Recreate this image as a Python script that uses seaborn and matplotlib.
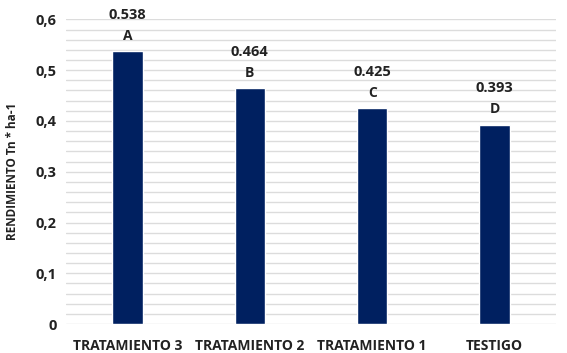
import numpy as np
import pandas as pd
import matplotlib.pyplot as plt
import seaborn as sns
from matplotlib.ticker import MultipleLocator, FuncFormatter

# chart values
tratamientos = ['TRATAMIENTO 3', 'TRATAMIENTO 2', 'TRATAMIENTO 1', 'TESTIGO']
rendimiento = [0.538, 0.464, 0.425, 0.393]
letras = ['A', 'B', 'C', 'D']

df = pd.DataFrame({'tratamiento': tratamientos, 'rendimiento': rendimiento})

sns.set_style('white')
plt.rcParams['font.family'] = ['Open Sans', 'DejaVu Sans']

fig, ax = plt.subplots(figsize=(5.67, 3.53), dpi=100)
fig.subplots_adjust(left=0.117, right=0.98, top=0.945, bottom=0.082)

sns.barplot(data=df, x='tratamiento', y='rendimiento', color='#002060',
            width=0.25, saturation=1, ax=ax, zorder=3)

# labels above bars: value then letter
for i, p in enumerate(ax.patches):
    x = p.get_x() + p.get_width() / 2
    h = p.get_height()
    ax.annotate(letras[i], (x, h), xytext=(0, 6), textcoords='offset points',
                ha='center', va='bottom', fontsize=10, fontweight='bold', color='#222222')
    ax.annotate(f'{rendimiento[i]:.3f}', (x, h), xytext=(0, 21), textcoords='offset points',
                ha='center', va='bottom', fontsize=10.5, fontweight='bold', color='#222222')

ax.set_ylim(0, 0.6)
ax.set_xlim(-0.5, 3.5)
ax.yaxis.set_major_locator(MultipleLocator(0.1))
ax.yaxis.set_minor_locator(MultipleLocator(0.02))
ax.yaxis.set_major_formatter(FuncFormatter(lambda v, pos: '0' if abs(v) < 1e-9 else f'{v:.1f}'.replace('.', ',')))
ax.grid(axis='y', which='both', color='#dcdcdc', linewidth=1, zorder=0)
ax.set_axisbelow(True)

for s in ax.spines.values():
    s.set_visible(False)

ax.tick_params(axis='both', which='both', length=0)
ax.tick_params(axis='y', labelsize=10.5, pad=7)
ax.tick_params(axis='x', labelsize=10, pad=11)
for lab in ax.get_xticklabels() + ax.get_yticklabels():
    lab.set_fontweight('bold')
    lab.set_color('#222222')

ax.set_xlabel('')
ax.set_ylabel('RENDIMIENTO Tn * ha-1', fontsize=8.5, fontweight='bold', color='#222222')
ax.yaxis.set_label_coords(-0.097, 0.5)

fig.savefig('out.png', dpi=100)
